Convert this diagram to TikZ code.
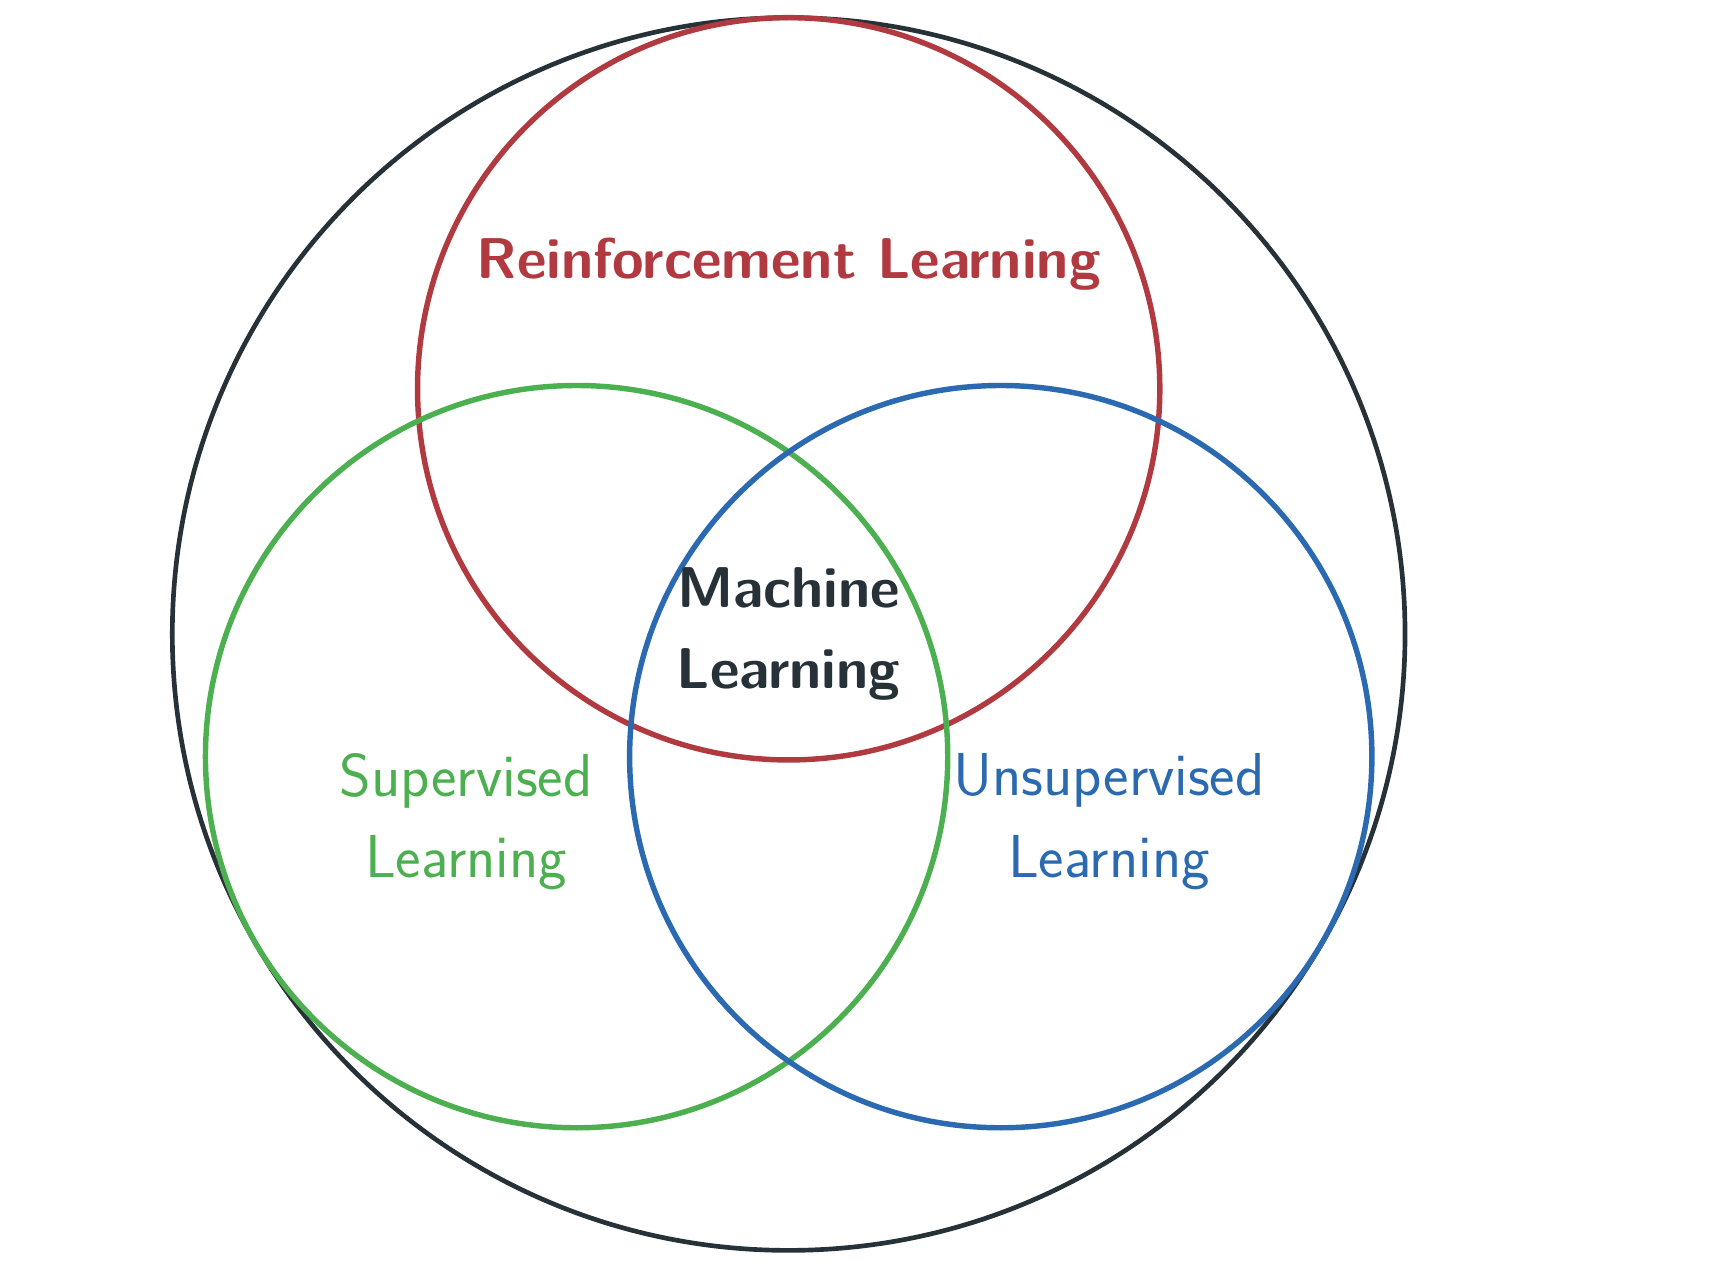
\documentclass[tikz,border=0pt]{standalone}
\usepackage{xcolor}
\usepackage{tikz}
\definecolor{mldark}{RGB}{38,50,56}
\definecolor{mlred}{RGB}{176,58,64}
\definecolor{mlgreen}{RGB}{76,175,80}
\definecolor{mlblue}{RGB}{43,106,176}

\begin{document}
\begin{tikzpicture}[x=0.01cm, y=-0.01cm, every node/.style={font=\sffamily\fontsize{15.6}{21}\selectfont, align=center}]
            \useasboundingbox (0,0) rectangle (1568,1155);
            \draw[mldark, line width=1.2pt] (714,574) circle[radius=558];
            \draw[mlred, line width=1.4pt] (714,352) circle[radius=336];
            \draw[mlgreen, line width=1.4pt] (522,685) circle[radius=336];
            \draw[mlblue, line width=1.4pt] (906,685) circle[radius=336];
            \node[anchor=base, text=mlred, font=\sffamily\bfseries\fontsize{14.8}{21}\selectfont] (rl) at (714,252) {Reinforcement Learning};
            \node[text=mldark, font=\sffamily\bfseries\fontsize{14.8}{21}\selectfont] (ml) at (714,574) {Machine\\Learning};
            \node[text=mlgreen] (sl) at (422,744) {Supervised\\Learning};
            \node[text=mlblue] (ul) at (1004,744) {Unsupervised\\Learning};
        \end{tikzpicture}
\end{document}
